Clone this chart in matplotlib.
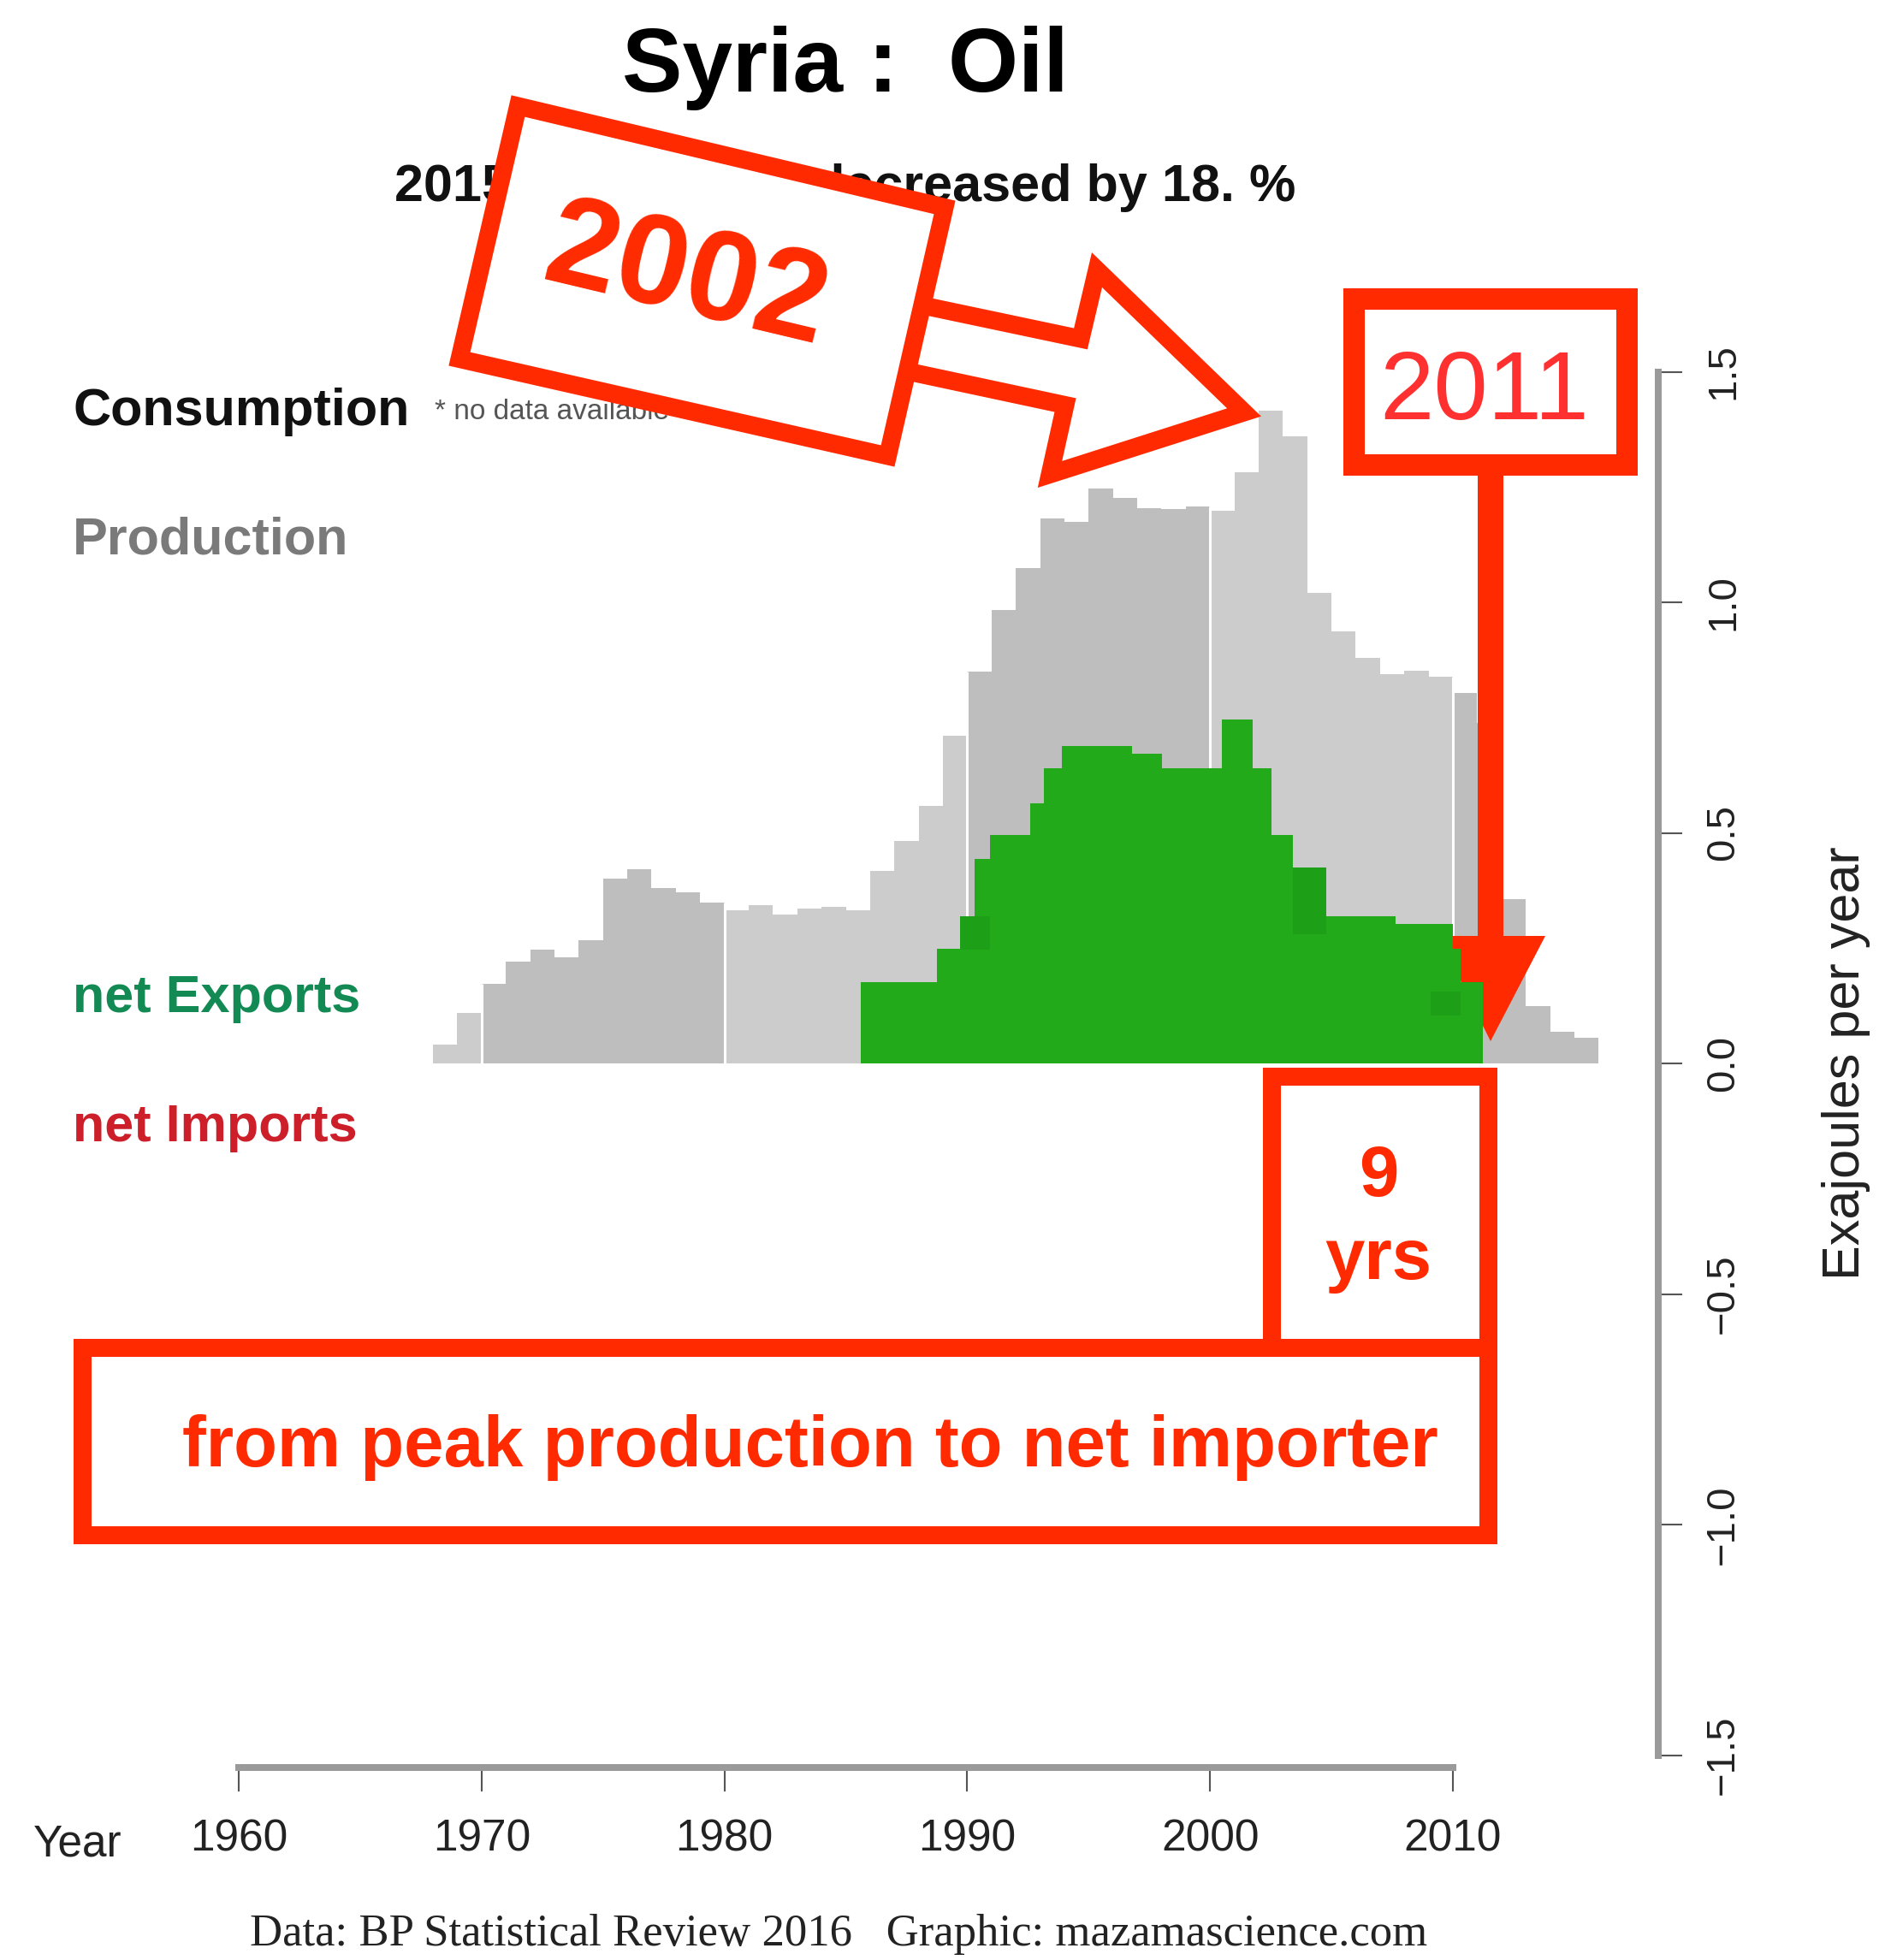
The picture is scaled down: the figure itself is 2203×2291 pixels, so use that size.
import matplotlib
matplotlib.use('Agg')
from matplotlib import pyplot as plt
from matplotlib.patches import Polygon, Rectangle
from matplotlib.transforms import Affine2D

# oil production, exajoules per year
years = list(range(1968, 2016))
production = [0.040, 0.109, 0.173, 0.220, 0.247, 0.230, 0.267, 0.400, 0.421, 0.381,
              0.371, 0.348, 0.333, 0.343, 0.322, 0.336, 0.340, 0.333, 0.418, 0.482,
              0.559, 0.710, 0.849, 0.984, 1.075, 1.181, 1.174, 1.246, 1.226, 1.204,
              1.202, 1.208, 1.199, 1.282, 1.416, 1.360, 1.021, 0.936, 0.879, 0.845,
              0.851, 0.839, 0.804, 0.738, 0.357, 0.124, 0.069, 0.055]

# green net exports, drawn as steps (edges in years)
export_edges = [1985.6, 1988.74, 1989.72, 1990.30, 1990.95, 1992.58, 1993.14, 1993.89,
                1996.79, 1998.03, 2000.47, 2001.77, 2002.52, 2003.40, 2004.80, 2007.64,
                2010.0, 2010.33, 2011.25]
net_exports = [0.176, 0.249, 0.319, 0.443, 0.496, 0.564, 0.640, 0.688, 0.672, 0.640,
               0.746, 0.640, 0.496, 0.425, 0.319, 0.302, 0.249, 0.176]

# slightly darker green patches
shade_x0 = [1989.72, 2003.40, 2009.10]
shade_x1 = [1990.95, 2004.80, 2010.33]
shade_lo = [0.247, 0.280, 0.104]
shade_hi = [0.319, 0.425, 0.156]

x_ticks = [1960, 1970, 1980, 1990, 2000, 2010]
y_ticks = [-1.5, -1.0, -0.5, 0.0, 0.5, 1.0, 1.5]
y_tick_labels = ['\u22121.5', '\u22121.0', '\u22120.5', '0.0', '0.5', '1.0', '1.5']

plt.rcParams['font.family'] = ['Liberation Sans', 'DejaVu Sans']

W, H = 2203, 2291
RED = '#ff2a00'
fig = plt.figure(figsize=(W / 100, H / 100), dpi=100)
# pixel coordinates measured from the top left corner
pix = Affine2D().scale(1.0 / W, -1.0 / H).translate(0, 1) + fig.transFigure


def lw(px):
    return px * 0.72


ax = fig.add_axes([0, (H - 2066) / H, 1938 / W, 2066 / H])
ax.patch.set_visible(False)

px_year = 28.38
px_unit = 539.0

colors = ['#cccccc' if (y // 10) % 2 == 0 else '#bebebe' for y in years]
ax.bar(years, production, width=1.0, align='edge', color=colors, linewidth=0, zorder=2)

prod = dict(zip(years, production))
decades = [1970, 1980, 1990, 2000, 2010]
seps = [max(prod.get(d - 1, 0), prod.get(d, 0)) for d in decades]
ax.vlines(decades, 0, seps, colors='white', linewidth=2.2, zorder=2.5)

ax.stairs(net_exports, export_edges, baseline=0, fill=True, color='#22aa1a', zorder=4)
ax.bar(shade_x0, [h - l for h, l in zip(shade_hi, shade_lo)],
       width=[b - a for a, b in zip(shade_x0, shade_x1)], bottom=shade_lo,
       align='edge', color='#1d9f17', linewidth=0, zorder=4.5)

ax.set_xlim(1960 - 279 / px_year, 1960 + (1938 - 279) / px_year)
ax.set_ylim((1243 - 2066) / px_unit, 1243 / px_unit)

# axes
for s in ['left', 'top']:
    ax.spines[s].set_visible(False)
for s in ['right', 'bottom']:
    ax.spines[s].set_color('#9a9a9a')
    ax.spines[s].set_linewidth(lw(8))
ax.spines['right'].set_bounds(-1.5, 1.5)
ax.spines['bottom'].set_bounds(1960, 2010)
ax.yaxis.tick_right()
ax.set_xticks(x_ticks)
ax.set_xticklabels([str(t) for t in x_ticks])
ax.set_yticks(y_ticks)
ax.set_yticklabels(y_tick_labels, rotation=90, va='center')
ax.tick_params(axis='x', direction='out', length=20, width=1.5, color='#555555',
               pad=23, labelsize=37, labelcolor='#222222')
ax.tick_params(axis='y', right=True, left=False, direction='out', length=20, width=1.5,
               color='#555555', pad=19, labelsize=34, labelcolor='#222222')

# titles and labels
ax.text(988, 107, 'Syria :  Oil', transform=pix, ha='center', va='baseline',
        fontsize=76, fontweight='bold', color='black', zorder=5)
ax.text(988, 235, '2015 production decreased by 18. %', transform=pix, ha='center',
        va='baseline', fontsize=44, fontweight='bold', color='#111111', zorder=5)
ax.text(85, 497, 'Consumption', transform=pix, ha='left', va='baseline',
        fontsize=44, fontweight='bold', color='#111111', zorder=5)
ax.text(508, 490, '* no data available', transform=pix, ha='left', va='baseline',
        fontsize=24, color='#555555', zorder=5)
ax.text(85, 647, 'Production', transform=pix, ha='left', va='baseline',
        fontsize=44, fontweight='bold', color='#7a7a7a', zorder=5)
ax.text(85, 1183, 'net Exports', transform=pix, ha='left', va='baseline',
        fontsize=44, fontweight='bold', color='#138a54', zorder=5)
ax.text(85, 1334, 'net Imports', transform=pix, ha='left', va='baseline',
        fontsize=44, fontweight='bold', color='#cc1f2a', zorder=5)
ax.text(2157, 1243, 'Exajoules per year', transform=pix, ha='center', va='center',
        rotation=90, fontsize=44, color='#222222', zorder=5)
ax.text(91, 2170, 'Year', transform=pix, ha='center', va='baseline',
        fontsize=37, color='#222222', zorder=5)
ax.text(292, 2274, 'Data: BP Statistical Review 2016   Graphic: mazamascience.com',
        transform=pix, ha='left', va='baseline', fontsize=38,
        family=['Liberation Serif', 'DejaVu Serif'], color='#222222', zorder=5)

# 2002 box and hollow arrow
box2002 = [(605.5, 124), (1104, 242.4), (1037.5, 533), (537, 419.6)]
ax.add_patch(Polygon(box2002, closed=True, facecolor='white', edgecolor=RED,
                     linewidth=lw(21), joinstyle='miter', transform=pix,
                     clip_on=False, zorder=8))
ax.text(802, 327, '2002', transform=pix, ha='center', va='center', rotation=-13.4,
        rotation_mode='anchor', fontsize=108, fontweight='bold', color=RED, zorder=9)
arrow = [(1078, 357), (1263, 396), (1282, 315.5), (1454, 482), (1227, 554.5),
         (1245, 473.5), (1060, 434)]
ax.add_patch(Polygon(arrow, closed=False, fill=False, edgecolor=RED,
                     linewidth=lw(21), joinstyle='miter', transform=pix,
                     clip_on=False, zorder=8))

# 2011 box with arrow down
ax.add_patch(Rectangle((1581.5, 348.5), 319, 194, facecolor='white', edgecolor=RED,
                       linewidth=lw(25), joinstyle='miter', transform=pix,
                       clip_on=False, zorder=8))
ax.text(1735, 490, '2011', transform=pix, ha='center', va='baseline',
        fontsize=82, color='#ff3030', zorder=9)
ax.add_patch(Rectangle((1727, 548), 30, 552, facecolor=RED, edgecolor='none',
                       transform=pix, clip_on=False, zorder=3.5))
ax.add_patch(Polygon([(1681, 1094), (1806, 1094), (1742, 1217)], closed=True,
                     facecolor=RED, edgecolor='none', transform=pix,
                     clip_on=False, zorder=3.5))

# 9 yrs box and bottom box
ax.add_patch(Rectangle((1485.5, 1257.5), 253, 317, facecolor='white', edgecolor=RED,
                       linewidth=lw(21), joinstyle='miter', transform=pix,
                       clip_on=False, zorder=8))
ax.add_patch(Rectangle((95.5, 1574.5), 1643, 219, facecolor='white', edgecolor=RED,
                       linewidth=lw(21), joinstyle='miter', transform=pix,
                       clip_on=False, zorder=8))
ax.text(1611, 1398, '9', transform=pix, ha='center', va='baseline',
        fontsize=60, fontweight='bold', color=RED, zorder=9)
ax.text(1611, 1495, 'yrs', transform=pix, ha='center', va='baseline',
        fontsize=60, fontweight='bold', color=RED, zorder=9)
ax.text(947, 1714, 'from peak production to net importer', transform=pix,
        ha='center', va='baseline', fontsize=60, fontweight='bold', color=RED, zorder=9)

fig.savefig('out.png', dpi=100)
